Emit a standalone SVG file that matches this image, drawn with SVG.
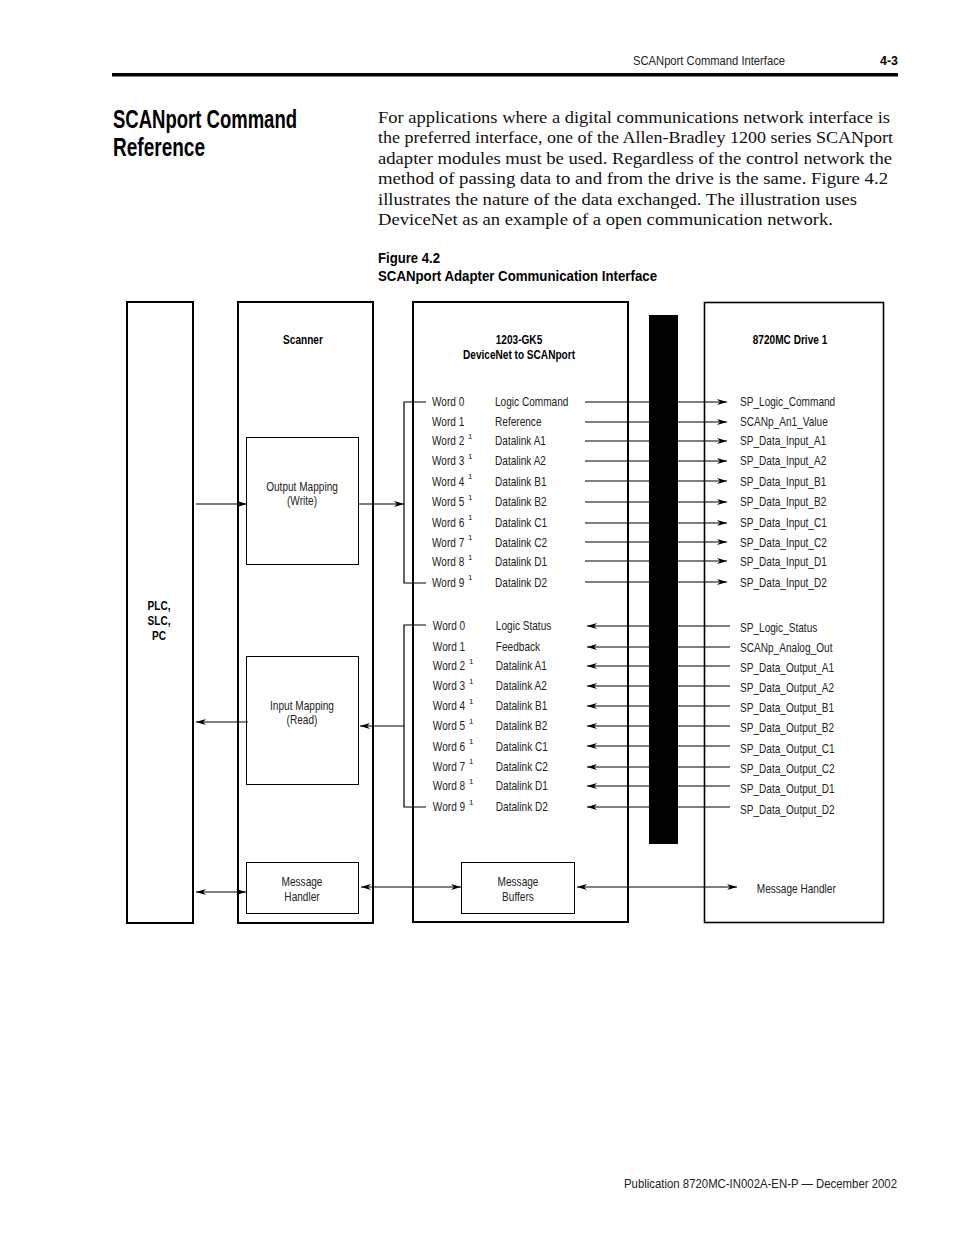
<svg xmlns="http://www.w3.org/2000/svg" width="954" height="1235" viewBox="0 0 954 1235">
<style>
.c{font-family:"Liberation Sans Narrow","Liberation Sans",Arial,sans-serif;fill:#222}
.b{font-weight:bold;fill:#000}
.s{font-size:12px}
.body{font-family:"Liberation Serif","Times New Roman",serif;font-size:17px;fill:#111}
.box{fill:#fff;stroke:#000;stroke-width:2}
.thin{fill:#fff;stroke:#000;stroke-width:1}
.ln{stroke:#000;stroke-width:1.2;fill:none}
.mid{text-anchor:middle}
</style>
<defs>
<marker id="ah" viewBox="0 0 10 6" refX="10" refY="3" markerWidth="10" markerHeight="6" markerUnits="userSpaceOnUse" orient="auto-start-reverse">
<path d="M0,0 L10,3 L0,6 L3,3 z" fill="#000"/>
</marker>
</defs>

<g id="page-header">
<text class="c" x="633" y="65" font-size="13" textLength="152" lengthAdjust="spacingAndGlyphs">SCANport Command Interface</text>
<text class="c b" x="880" y="65" font-size="13" textLength="18" lengthAdjust="spacingAndGlyphs">4-3</text>
<rect x="112" y="73" width="786" height="3.5" fill="#000"/>
</g>

<g id="title">
<text class="c b" x="113" y="128" font-size="25" textLength="184" lengthAdjust="spacingAndGlyphs">SCANport Command</text>
<text class="c b" x="113" y="156" font-size="25" textLength="92" lengthAdjust="spacingAndGlyphs">Reference</text>
</g>

<g id="body-text">
<text class="body" x="378" y="123" textLength="512" lengthAdjust="spacingAndGlyphs">For applications where a digital communications network interface is</text>
<text class="body" x="378" y="143" textLength="515" lengthAdjust="spacingAndGlyphs">the preferred interface, one of the Allen-Bradley 1200 series SCANport</text>
<text class="body" x="378" y="164" textLength="514" lengthAdjust="spacingAndGlyphs">adapter modules must be used. Regardless of the control network the</text>
<text class="body" x="378" y="184" textLength="510" lengthAdjust="spacingAndGlyphs">method of passing data to and from the drive is the same. Figure 4.2</text>
<text class="body" x="378" y="205" textLength="479" lengthAdjust="spacingAndGlyphs">illustrates the nature of the data exchanged. The illustration uses</text>
<text class="body" x="378" y="225" textLength="455" lengthAdjust="spacingAndGlyphs">DeviceNet as an example of a open communication network.</text>
</g>

<g id="caption">
<text class="c b" x="378" y="263" font-size="14" textLength="62" lengthAdjust="spacingAndGlyphs">Figure 4.2</text>
<text class="c b" x="378" y="281" font-size="14" textLength="279" lengthAdjust="spacingAndGlyphs">SCANport Adapter Communication Interface</text>
</g>

<g id="plc">
<rect class="box" x="127" y="302" width="66" height="621"/>
<g transform="translate(159,0) scale(0.84,1)">
<text class="c b s mid" x="0" y="610">PLC,</text>
<text class="c b s mid" x="0" y="625">SLC,</text>
<text class="c b s mid" x="0" y="640">PC</text>
</g>
</g>

<g id="scanner">
<rect class="box" x="238" y="302" width="135" height="621"/>
<g transform="translate(303,0) scale(0.84,1)">
<text class="c b s mid" x="0" y="344">Scanner</text>
</g>
</g>
<g id="output-mapping">
<rect class="thin" x="246.5" y="437.5" width="112" height="127"/>
<g transform="translate(302,0) scale(0.84,1)">
<text class="c s mid" x="0" y="491">Output Mapping</text>
<text class="c s mid" x="0" y="505">(Write)</text>
</g>
</g>
<g id="input-mapping">
<rect class="thin" x="246.5" y="656.5" width="112" height="128"/>
<g transform="translate(302,0) scale(0.84,1)">
<text class="c s mid" x="0" y="710">Input Mapping</text>
<text class="c s mid" x="0" y="724">(Read)</text>
</g>
</g>
<g id="message-handler">
<rect class="thin" x="246.5" y="862.5" width="112" height="51"/>
<g transform="translate(302,0) scale(0.84,1)">
<text class="c s mid" x="0" y="886">Message</text>
<text class="c s mid" x="0" y="901">Handler</text>
</g>
</g>

<g id="gk5">
<rect class="box" x="413" y="302" width="215" height="620"/>
<g transform="translate(519,0) scale(0.84,1)">
<text class="c b s mid" x="0" y="344">1203-GK5</text>
<text class="c b s mid" x="0" y="359">DeviceNet to SCANport</text>
</g>
<g class="c s" transform="translate(432,0) scale(0.84,1)">
<text x="0" y="406">Word 0</text>
<text x="0" y="426">Word 1</text>
<text x="0" y="445">Word 2</text>
<text x="0" y="465">Word 3</text>
<text x="0" y="486">Word 4</text>
<text x="0" y="506">Word 5</text>
<text x="0" y="527">Word 6</text>
<text x="0" y="547">Word 7</text>
<text x="0" y="566">Word 8</text>
<text x="0" y="587">Word 9</text>
<text x="1" y="630">Word 0</text>
<text x="1" y="651">Word 1</text>
<text x="1" y="670">Word 2</text>
<text x="1" y="690">Word 3</text>
<text x="1" y="710">Word 4</text>
<text x="1" y="730">Word 5</text>
<text x="1" y="751">Word 6</text>
<text x="1" y="771">Word 7</text>
<text x="1" y="790">Word 8</text>
<text x="1" y="811">Word 9</text>
</g>
<g class="c s" transform="translate(495,0) scale(0.84,1)">
<text x="0" y="406">Logic Command</text>
<text x="0" y="426">Reference</text>
<text x="0" y="445">Datalink A1</text>
<text x="0" y="465">Datalink A2</text>
<text x="0" y="486">Datalink B1</text>
<text x="0" y="506">Datalink B2</text>
<text x="0" y="527">Datalink C1</text>
<text x="0" y="547">Datalink C2</text>
<text x="0" y="566">Datalink D1</text>
<text x="0" y="587">Datalink D2</text>
<text x="1" y="630">Logic Status</text>
<text x="1" y="651">Feedback</text>
<text x="1" y="670">Datalink A1</text>
<text x="1" y="690">Datalink A2</text>
<text x="1" y="710">Datalink B1</text>
<text x="1" y="730">Datalink B2</text>
<text x="1" y="751">Datalink C1</text>
<text x="1" y="771">Datalink C2</text>
<text x="1" y="790">Datalink D1</text>
<text x="1" y="811">Datalink D2</text>
</g>
<g class="c" font-size="8">
<text x="468" y="439">1</text><text x="468" y="459">1</text><text x="468" y="479">1</text><text x="468" y="500">1</text>
<text x="468" y="520">1</text><text x="468" y="540">1</text><text x="468" y="560">1</text><text x="468" y="580">1</text>
<text x="469" y="664">1</text><text x="469" y="684">1</text><text x="469" y="704">1</text><text x="469" y="724">1</text>
<text x="469" y="744">1</text><text x="469" y="764">1</text><text x="469" y="784">1</text><text x="469" y="805">1</text>
</g>
</g>
<g id="message-buffers">
<rect class="thin" x="461.5" y="862.5" width="113" height="51"/>
<g transform="translate(518,0) scale(0.84,1)">
<text class="c s mid" x="0" y="886">Message</text>
<text class="c s mid" x="0" y="901">Buffers</text>
</g>
</g>

<g id="devicenet-bus">
<rect x="649" y="315" width="29" height="529" fill="#000"/>
</g>

<g id="drive">
<rect x="704.5" y="302.5" width="179" height="620" fill="none" stroke="#000" stroke-width="1.6"/>
<g transform="translate(790,0) scale(0.84,1)">
<text class="c b s mid" x="0" y="344">8720MC Drive 1</text>
</g>
<g class="c s" transform="translate(740,0) scale(0.84,1)">
<text x="0" y="406">SP_Logic_Command</text>
<text x="0" y="426">SCANp_An1_Value</text>
<text x="0" y="445">SP_Data_Input_A1</text>
<text x="0" y="465">SP_Data_Input_A2</text>
<text x="0" y="486">SP_Data_Input_B1</text>
<text x="0" y="506">SP_Data_Input_B2</text>
<text x="0" y="527">SP_Data_Input_C1</text>
<text x="0" y="547">SP_Data_Input_C2</text>
<text x="0" y="566">SP_Data_Input_D1</text>
<text x="0" y="587">SP_Data_Input_D2</text>
<text x="0" y="632">SP_Logic_Status</text>
<text x="0" y="652">SCANp_Analog_Out</text>
<text x="0" y="672">SP_Data_Output_A1</text>
<text x="0" y="692">SP_Data_Output_A2</text>
<text x="0" y="712">SP_Data_Output_B1</text>
<text x="0" y="732">SP_Data_Output_B2</text>
<text x="0" y="753">SP_Data_Output_C1</text>
<text x="0" y="773">SP_Data_Output_C2</text>
<text x="0" y="793">SP_Data_Output_D1</text>
<text x="0" y="814">SP_Data_Output_D2</text>
<text x="20" y="893">Message Handler</text>
</g>
</g>

<g id="connectors">
<path class="ln" d="M196,504 H247" marker-end="url(#ah)"/>
<path class="ln" d="M358,504 H404" marker-end="url(#ah)"/>
<path class="ln" d="M426,402 H404 V583 H426"/>
<path class="ln" d="M426,625 H404 V807 H426"/>
<path class="ln" d="M404,726 H360" marker-end="url(#ah)"/>
<path class="ln" d="M248,722 H196" marker-end="url(#ah)"/>
<path class="ln" d="M196,892 H246" marker-start="url(#ah)" marker-end="url(#ah)"/>
<path class="ln" d="M361,887 H461" marker-start="url(#ah)" marker-end="url(#ah)"/>
<path class="ln" d="M577,887 H737" marker-start="url(#ah)" marker-end="url(#ah)"/>
<g class="ln">
<path d="M585,402 H727" marker-end="url(#ah)"/>
<path d="M585,422 H727" marker-end="url(#ah)"/>
<path d="M585,441 H727" marker-end="url(#ah)"/>
<path d="M585,461 H727" marker-end="url(#ah)"/>
<path d="M585,481 H727" marker-end="url(#ah)"/>
<path d="M585,502 H727" marker-end="url(#ah)"/>
<path d="M585,523 H727" marker-end="url(#ah)"/>
<path d="M585,542 H727" marker-end="url(#ah)"/>
<path d="M585,561 H727" marker-end="url(#ah)"/>
<path d="M585,582 H727" marker-end="url(#ah)"/>
<path d="M730,626 H587" marker-end="url(#ah)"/>
<path d="M730,647 H587" marker-end="url(#ah)"/>
<path d="M730,666 H587" marker-end="url(#ah)"/>
<path d="M730,686 H587" marker-end="url(#ah)"/>
<path d="M730,706 H587" marker-end="url(#ah)"/>
<path d="M730,726 H587" marker-end="url(#ah)"/>
<path d="M730,746 H587" marker-end="url(#ah)"/>
<path d="M730,767 H587" marker-end="url(#ah)"/>
<path d="M730,786 H587" marker-end="url(#ah)"/>
<path d="M730,807 H587" marker-end="url(#ah)"/>
</g>
</g>

<g id="footer">
<text class="c" x="624" y="1188" font-size="13" textLength="273" lengthAdjust="spacingAndGlyphs">Publication 8720MC-IN002A-EN-P — December 2002</text>
</g>
</svg>
